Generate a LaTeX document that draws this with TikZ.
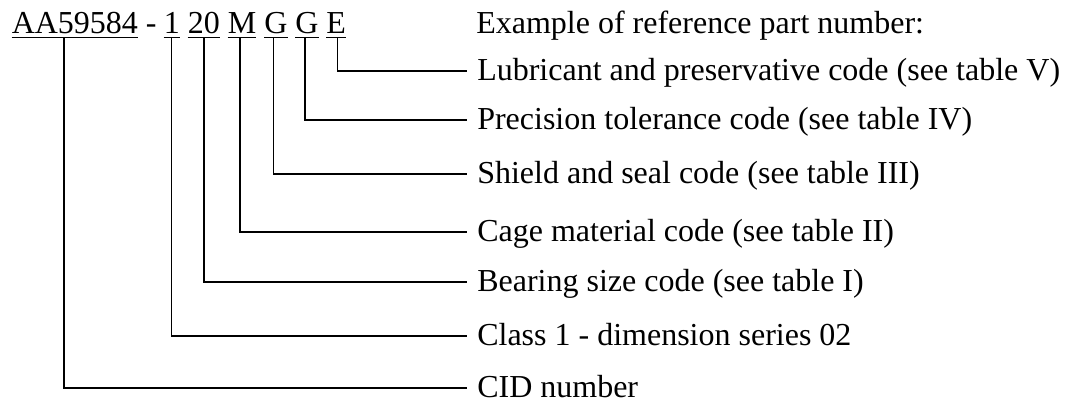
\documentclass[tikz,border=0pt]{standalone}
\usepackage{fontspec}
\setmainfont{Liberation Serif}
\begin{document}
\begin{tikzpicture}[x=0.75pt,y=-0.75pt,
  every node/.style={font=\fontsize{24}{28}\selectfont, inner sep=0pt},
  token/.style={anchor=base west},
  lbl/.style={anchor=west, inner xsep=7.5pt, inner ysep=0pt, text height=14.25pt, text depth=0pt},
  uline/.style={line width=1.2pt},
  conn/.style={line width=1.2pt}]
\useasboundingbox (0,0) rectangle (1066,400);
% part number tokens
\node[token] (aa) at (11.5,33) {AA59584};
\node[token] (dash) at (145.5,33) {-};
\node[token] (one) at (163.5,33) {1};
\node[token] (twenty) at (187.5,33) {20};
\node[token] (m) at (227.5,33) {M};
\node[token] (g1) at (264,33) {G};
\node[token] (g2) at (295,33) {G};
\node[token] (e) at (326,33) {E};
\foreach \n in {aa,one,twenty,m,g1,g2,e}
  \draw[uline] ([yshift=-3.5pt]\n.base west) -- ([yshift=-3.5pt]\n.base east);
\node[token] (title) at (476,33) {Example of reference part number:};
% labels
\node[lbl] (lub) at (467,71) {Lubricant and preservative code (see table V)};
\node[lbl] (prec) at (467,120) {Precision tolerance code (see table IV)};
\node[lbl] (shield) at (467,174) {Shield and seal code (see table III)};
\node[lbl] (cage) at (467,232) {Cage material code (see table II)};
\node[lbl] (bear) at (467,282) {Bearing size code (see table I)};
\node[lbl] (cls) at (467,336) {Class 1 - dimension series 02};
\node[lbl] (cid) at (467,388) {CID number};
% connector start points on underlines
\coordinate (aaT) at (64,37.7);
\coordinate (oneT) at (171.5,37.7);
\coordinate (twentyT) at (204,37.7);
\coordinate (mT) at (240,37.7);
\coordinate (g1T) at (273.5,37.7);
\coordinate (g2T) at (305,37.7);
\coordinate (eT) at (337.5,37.7);
\draw[conn] (eT) |- (lub.west);
\draw[conn] (g2T) |- (prec.west);
\draw[conn] (g1T) |- (shield.west);
\draw[conn] (mT) |- (cage.west);
\draw[conn] (twentyT) |- (bear.west);
\draw[conn] (oneT) |- (cls.west);
\draw[conn] (aaT) |- (cid.west);
\end{tikzpicture}
\end{document}
